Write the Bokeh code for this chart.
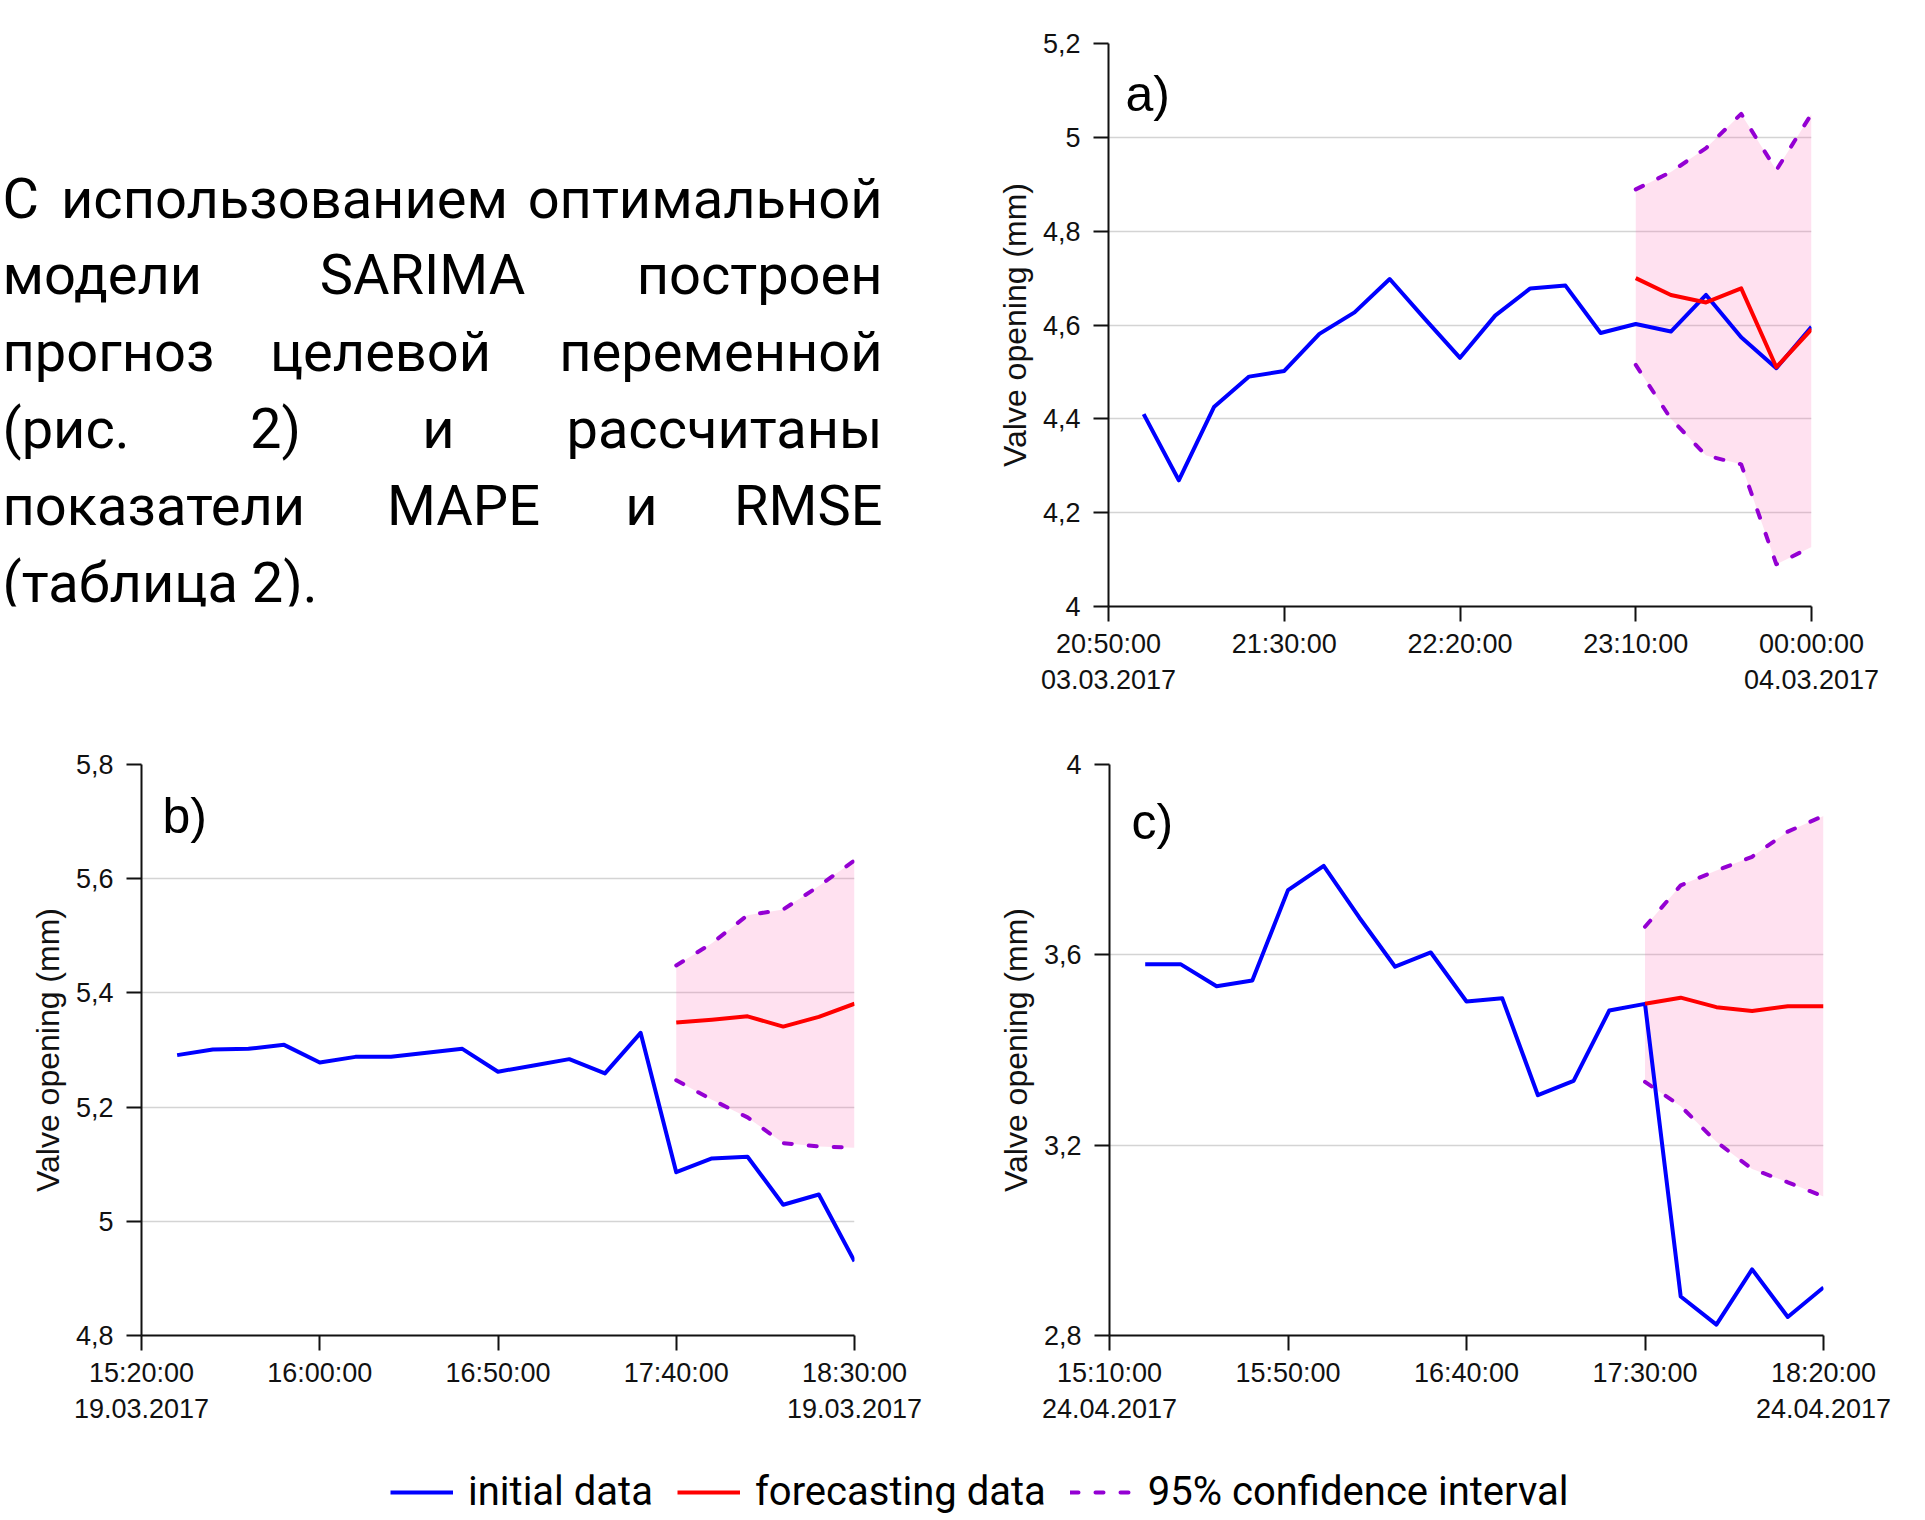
from bokeh.plotting import figure
from bokeh.layouts import column, row
from bokeh.models import (Range1d, FixedTicker, CustomJSTickFormatter, Label, LabelSet,
                          Legend, LegendItem, ColumnDataSource)
from bokeh.core.properties import value
from bokeh.embed import file_html
from bokeh.resources import INLINE

# ---------------- data ----------------
idx_all = list(range(1, 21))
idx_fc = list(range(15, 21))
x_ticks = [0, 5, 10, 15, 20]

a_initial = [4.410, 4.269, 4.425, 4.490, 4.502, 4.581, 4.627, 4.698, 4.613, 4.530,
             4.620, 4.678, 4.684, 4.583, 4.602, 4.586, 4.664, 4.574, 4.508, 4.596]
a_forecast = [4.700, 4.664, 4.648, 4.678, 4.510, 4.591]
a_upper = [4.889, 4.926, 4.977, 5.050, 4.930, 5.050]
a_lower = [4.515, 4.400, 4.322, 4.303, 4.090, 4.127]
a_yticks = [4.0, 4.2, 4.4, 4.6, 4.8, 5.0, 5.2]
a_xlabels = ["20:50:00\n03.03.2017", "21:30:00", "22:20:00", "23:10:00", "00:00:00\n04.03.2017"]

b_initial = [5.291, 5.301, 5.302, 5.309, 5.278, 5.288, 5.288, 5.295, 5.302, 5.262,
             5.273, 5.284, 5.259, 5.330, 5.086, 5.110, 5.113, 5.029, 5.047, 4.930]
b_forecast = [5.348, 5.353, 5.359, 5.341, 5.358, 5.381]
b_upper = [5.448, 5.487, 5.536, 5.546, 5.587, 5.632]
b_lower = [5.247, 5.213, 5.182, 5.137, 5.131, 5.129]
b_yticks = [4.8, 5.0, 5.2, 5.4, 5.6, 5.8]
b_xlabels = ["15:20:00\n19.03.2017", "16:00:00", "16:50:00", "17:40:00", "18:30:00\n19.03.2017"]

c_initial = [3.580, 3.580, 3.534, 3.546, 3.736, 3.787, 3.678, 3.575, 3.605, 3.502,
             3.509, 3.305, 3.335, 3.483, 3.497, 2.882, 2.823, 2.939, 2.839, 2.901]
c_forecast = [3.497, 3.510, 3.490, 3.482, 3.492, 3.492]
c_upper = [3.659, 3.746, 3.777, 3.806, 3.859, 3.892]
c_lower = [3.333, 3.282, 3.207, 3.150, 3.122, 3.092]
c_yticks = [2.8, 3.2, 3.6, 4.0]
c_xlabels = ["15:10:00\n24.04.2017", "15:50:00", "16:40:00", "17:30:00", "18:20:00\n24.04.2017"]

legend_labels = ["initial data", "forecasting data", "95% confidence interval"]
y_axis_title = "Valve opening (mm)"

text_lines = [
    ["С", "использованием", "оптимальной"],
    ["модели", "SARIMA", "построен"],
    ["прогноз", "целевой", "переменной"],
    ["(рис.", "2)", "и", "рассчитаны"],
    ["показатели", "MAPE", "и", "RMSE"],
    ["(таблица 2)."],
]

# ---------------- styles / layout ----------------
BLUE = "#0000ff"
RED = "#ff0000"
PURPLE = "#9400d3"
PINK = "#ff69b4"
GRID = "#d4d4d4"
AX_FONT = "Liberation Sans"
BODY_FONT = "Roboto"

ROW1_H, ROW2_H, LEG_H = 712, 728, 78
LEFT_W, RIGHT_W = 952, 965
A_TOP, A_FRAME_H = 43, 563
A_BOTTOM = ROW1_H - A_TOP - A_FRAME_H

# ---------------- text block ----------------
text_left, text_right = 2, 882
middle_centers = [[284], [422], [380], [275, 438], [463, 641], []]
base0, line_gap = 217, 76.8

L = dict(x=[], y=[], t=[])
R = dict(x=[], y=[], t=[])
C = dict(x=[], y=[], t=[])
for i, words in enumerate(text_lines):
    yb = base0 + i * line_gap
    L["x"].append(text_left); L["y"].append(yb); L["t"].append(words[0])
    if len(words) == 1:
        continue
    R["x"].append(text_right); R["y"].append(yb); R["t"].append(words[-1])
    for w, cx in zip(words[1:-1], middle_centers[i]):
        C["x"].append(cx); C["y"].append(yb); C["t"].append(w)

# text figure shares the top/bottom borders of chart a so that data = page pixels
tf = figure(width=LEFT_W, height=ROW1_H, x_range=Range1d(0, LEFT_W),
            y_range=Range1d(A_TOP + A_FRAME_H, A_TOP),
            x_axis_location=None, y_axis_location=None, toolbar_location=None,
            output_backend="svg", min_border_left=0, min_border_right=0,
            min_border_top=A_TOP, min_border_bottom=A_BOTTOM, outline_line_color=None)
tf.grid.visible = False
for src, al in ((L, "left"), (R, "right"), (C, "center")):
    tf.add_layout(LabelSet(x="x", y="y", text="t", source=ColumnDataSource(src),
                           text_align=al, text_baseline="alphabetic",
                           text_font=value(BODY_FONT), text_font_size="56px",
                           text_color="#000000"))


# ---------------- charts ----------------
def make_chart(width, height, mbl, mbr, mbt, mbb, frame_w, frame_h, y0, y1, yticks,
               xlabels, initial, forecast, upper, lower, letter, ldx, ldy):
    p = figure(width=width, height=height, x_range=Range1d(0, 20), y_range=Range1d(y0, y1),
               toolbar_location=None, output_backend="svg",
               min_border_left=mbl, min_border_right=mbr, min_border_top=mbt,
               min_border_bottom=mbb, outline_line_color=None,
               background_fill_color="white", border_fill_color="white")
    p.varea(x=idx_fc, y1=lower, y2=upper, fill_color=PINK, fill_alpha=0.2)
    p.line(idx_all, initial, line_color=BLUE, line_width=4, line_join="round")
    p.line(idx_fc, forecast, line_color=RED, line_width=4, line_join="round")
    for s in (upper, lower):
        p.line(idx_fc, s, line_color=PURPLE, line_width=4, line_dash="8 17",
               line_cap="round", line_join="round")

    p.xaxis.ticker = FixedTicker(ticks=x_ticks)
    p.xaxis.major_label_overrides = {t: lab for t, lab in zip(x_ticks, xlabels)}
    p.yaxis.ticker = FixedTicker(ticks=yticks)
    p.yaxis.formatter = CustomJSTickFormatter(
        code="return (Math.round(tick*10)/10).toString().replace('.', ',');")
    p.yaxis.axis_label = y_axis_title
    p.yaxis.axis_label_text_font = AX_FONT
    p.yaxis.axis_label_text_font_size = "32px"
    p.yaxis.axis_label_text_font_style = "normal"
    p.yaxis.axis_label_text_color = "#111111"
    p.yaxis.axis_label_standoff = 7
    p.axis.major_label_text_font = AX_FONT
    p.axis.major_label_text_font_size = "27px"
    p.axis.major_label_text_color = "#111111"
    p.axis.axis_line_color = "#111111"
    p.axis.axis_line_width = 2
    p.axis.major_tick_line_color = "#111111"
    p.axis.major_tick_line_width = 2
    p.axis.major_tick_in = 0
    p.axis.major_tick_out = 15
    p.axis.minor_tick_line_color = None
    p.xaxis.major_label_standoff = 7
    p.yaxis.major_label_standoff = 13
    p.xgrid.visible = False
    p.ygrid.grid_line_color = GRID
    p.ygrid.grid_line_width = 1.5

    lx = 20 * ldx / frame_w
    ly = y1 - (y1 - y0) * ldy / frame_h
    p.add_layout(Label(x=lx, y=ly, text=letter, text_font=AX_FONT, text_font_size="50px",
                       text_color="#000000", text_baseline="alphabetic", text_align="left"))
    return p


pa = make_chart(RIGHT_W, ROW1_H, 156, 106, A_TOP, A_BOTTOM, 703, A_FRAME_H, 4.0, 5.2,
                a_yticks, a_xlabels, a_initial, a_forecast, a_upper, a_lower, "a)", 17, 50)
pb = make_chart(LEFT_W, ROW2_H, 141, 98, 52, 105, 713, 571, 4.8, 5.8,
                b_yticks, b_xlabels, b_initial, b_forecast, b_upper, b_lower, "b)", 21, 51)
pc = make_chart(RIGHT_W, ROW2_H, 157, 94, 52, 105, 714, 571, 2.8, 4.0,
                c_yticks, c_xlabels, c_initial, c_forecast, c_upper, c_lower, "c)", 22, 57)

# ---------------- legend ----------------
lf = figure(width=LEFT_W + RIGHT_W, height=LEG_H, x_range=Range1d(-2, -1), y_range=Range1d(0, 1),
            x_axis_location=None, y_axis_location=None, toolbar_location=None,
            output_backend="svg", min_border=0, outline_line_color=None)
lf.grid.visible = False
# the series themselves lie outside this strip's ranges; only their legend samples show
r1 = lf.line(idx_all, b_initial, line_color=BLUE, line_width=4)
r2 = lf.line(idx_fc, b_forecast, line_color=RED, line_width=4)
r3 = lf.line(idx_fc, b_upper, line_color=PURPLE, line_width=4, line_dash="8 17",
             line_cap="round")
legend = Legend(items=[LegendItem(label=legend_labels[0], renderers=[r1]),
                       LegendItem(label=legend_labels[1], renderers=[r2]),
                       LegendItem(label=legend_labels[2], renderers=[r3])],
                orientation="horizontal", location=(390, 3), glyph_width=63,
                glyph_height=20, label_standoff=15, spacing=24, padding=0, margin=0,
                border_line_color=None, background_fill_alpha=0,
                label_text_font=BODY_FONT, label_text_font_size="40px",
                label_text_color="#000000")
lf.add_layout(legend, "center")

layout = column(row(tf, pa), row(pb, pc), lf)
open("out.html", "w").write(file_html(layout, INLINE))
